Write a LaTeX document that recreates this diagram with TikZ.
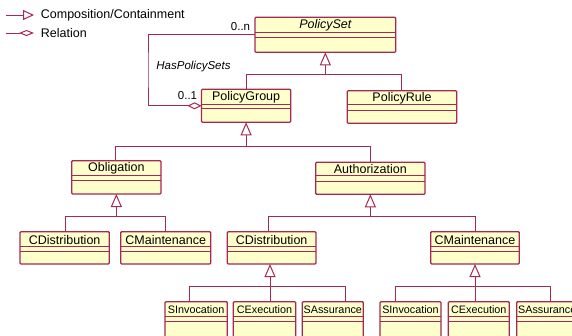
\documentclass[tikz,border=0pt]{standalone}
\usepackage{fontspec}
\setmainfont{Liberation Sans}
\usetikzlibrary{arrows.meta}
\definecolor{umlred}{RGB}{165,40,85}
\definecolor{umlfill}{RGB}{255,255,204}
\tikzset{
  clsbox/.style={draw=umlred, fill=umlfill, line width=1.3pt, rounded corners=1pt, inner sep=0pt, outer sep=0pt},
  clsline/.style={draw=umlred, line width=1pt},
  clstext/.style={inner sep=0pt, font=\fontsize{12.5}{13}\selectfont},
  conn/.style={draw=umlred, line width=1pt},
  gen/.style={conn, -{Triangle[open, length=13pt, width=11pt, line width=1pt]}},
  rel/.style={conn, -{Diamond[open, length=14pt, width=7pt, line width=1pt]}},
  lbl/.style={inner sep=0pt, font=\fontsize{11.5}{12}\selectfont},
}
\newcommand\umlcls[8]{%
  \node[clsbox, minimum width={#4-#2}, minimum height={#5-#3}, anchor=north west] (#1) at (#2,#3) {};
  \draw[clsline] (#2,#6) -- (#4,#6) (#2,#7) -- (#4,#7);
  \node[clstext] (#1-t) at ({(#2+#4)/2},{(#3+#6)/2+0.5}) {#8};
}
\newcommand\smtx[1]{{\fontsize{10.8}{12}\selectfont #1}}
\begin{document}
\begin{tikzpicture}[x=1pt, y=-1pt]
\clip (0,0) rectangle (572,335);
\fill[white] (0,0) rectangle (572,335);

% legend
\coordinate (lg1a) at (5.7,15);
\coordinate (lg1b) at (34,15);
\coordinate (lg2a) at (5.7,33);
\coordinate (lg2b) at (34,33);
\draw[conn, -{Triangle[open, length=11pt, width=10pt, line width=1pt]}] (lg1a) -- (lg1b);
\draw[conn, -{Diamond[open, length=15pt, width=6pt, line width=1pt]}] (lg2a) -- (lg2b);
\node[clstext, anchor=west] (lgt1) at (40.7,15.5) {Composition/Containment};
\node[clstext, anchor=west] (lgt2) at (40.7,33.5) {Relation};

% classes
\umlcls{ps}{255}{17.3}{395.7}{52.3}{32.3}{37.5}{\itshape PolicySet}
\umlcls{pg}{201.5}{89.3}{290.7}{122.3}{104}{108.7}{PolicyGroup}
\umlcls{pr}{347.3}{90.7}{456.7}{123.3}{104.3}{110}{PolicyRule}
\umlcls{ob}{71.7}{160.7}{161}{194}{175}{180.7}{Obligation}
\umlcls{au}{315.7}{162.3}{425}{194.3}{175.7}{181.7}{Authorization}
\umlcls{cda}{20}{231.7}{109.3}{264}{246.5}{251.7}{CDistribution}
\umlcls{cma}{120.7}{231.7}{210.7}{264}{246.5}{251.7}{CMaintenance}
\umlcls{cdb}{227.3}{231.7}{316}{264}{246.5}{251.7}{CDistribution}
\umlcls{cmb}{430.7}{231.7}{519.3}{264}{246.5}{251.7}{CMaintenance}
\umlcls{sia}{165}{301.7}{227.3}{340}{316}{321}{\smtx{SInvocation}}
\umlcls{cea}{233.3}{301.7}{295.7}{340}{316}{321}{\smtx{CExecution}}
\umlcls{saa}{302.3}{301.7}{363.3}{340}{316}{321}{\smtx{SAssurance}}
\umlcls{sib}{380}{301.7}{441}{340}{316}{321}{\smtx{SInvocation}}
\umlcls{ceb}{448.3}{301.7}{509.3}{340}{316}{321}{\smtx{CExecution}}
\umlcls{sab}{516.7}{301.7}{577.7}{340}{316}{321}{\smtx{SAssurance}}

% PolicySet generalization
\coordinate (g1l) at (246.7,74.3);
\coordinate (g1r) at (401.7,74.3);
\draw[conn] (pg.north -| g1l) |- (g1r) -- (pr.north -| g1r);
\draw[gen] (ps.south |- g1l) -- (ps.south);

% PolicyGroup generalization
\coordinate (g2l) at (115.7,146);
\coordinate (g2r) at (370.7,146);
\draw[conn] (ob.north -| g2l) |- (g2r) -- (au.north -| g2r);
\draw[gen] (pg.south |- g2l) -- (pg.south);

% Obligation generalization
\coordinate (g3l) at (65,216.7);
\coordinate (g3r) at (165.7,216.7);
\draw[conn] (cda.north -| g3l) |- (g3r) -- (cma.north -| g3r);
\draw[gen] (ob.south |- g3l) -- (ob.south);

% Authorization generalization
\coordinate (g4l) at (268.3,216.7);
\coordinate (g4r) at (475.7,216.7);
\draw[conn] (cdb.north -| g4l) |- (g4r) -- (cmb.north -| g4r);
\draw[gen] (au.south |- g4l) -- (au.south);

% CDistribution generalization
\coordinate (g5l) at (189.3,286.7);
\coordinate (g5m) at (270,286.7);
\coordinate (g5r) at (345.7,286.7);
\draw[conn] (sia.north -| g5l) |- (g5r) -- (saa.north -| g5r);
\draw[conn] (cea.north -| g5m) -- (g5m);
\draw[gen] (g5m) -- (cdb.south -| g5m);

% CMaintenance generalization
\coordinate (g6l) at (395,286.7);
\coordinate (g6m) at (475,286.7);
\coordinate (g6r) at (550.7,286.7);
\draw[conn] (sib.north -| g6l) |- (g6r) -- (sab.north -| g6r);
\draw[conn] (ceb.north -| g6m) -- (g6m);
\draw[gen] (g6m) -- (cmb.south -| g6m);

% HasPolicySets relation
\coordinate (hp) at (148,70);
\draw[rel] (ps.west) -| (hp) |- (pg.west);
\node[lbl, font=\fontsize{11.5}{12}\selectfont\itshape] (hpl) at (193.5,66.5) {HasPolicySets};
\node[lbl] (mn) at (240.5,27) {0..n};
\node[lbl] (m1) at (187.5,96) {0..1};
\end{tikzpicture}
\end{document}
